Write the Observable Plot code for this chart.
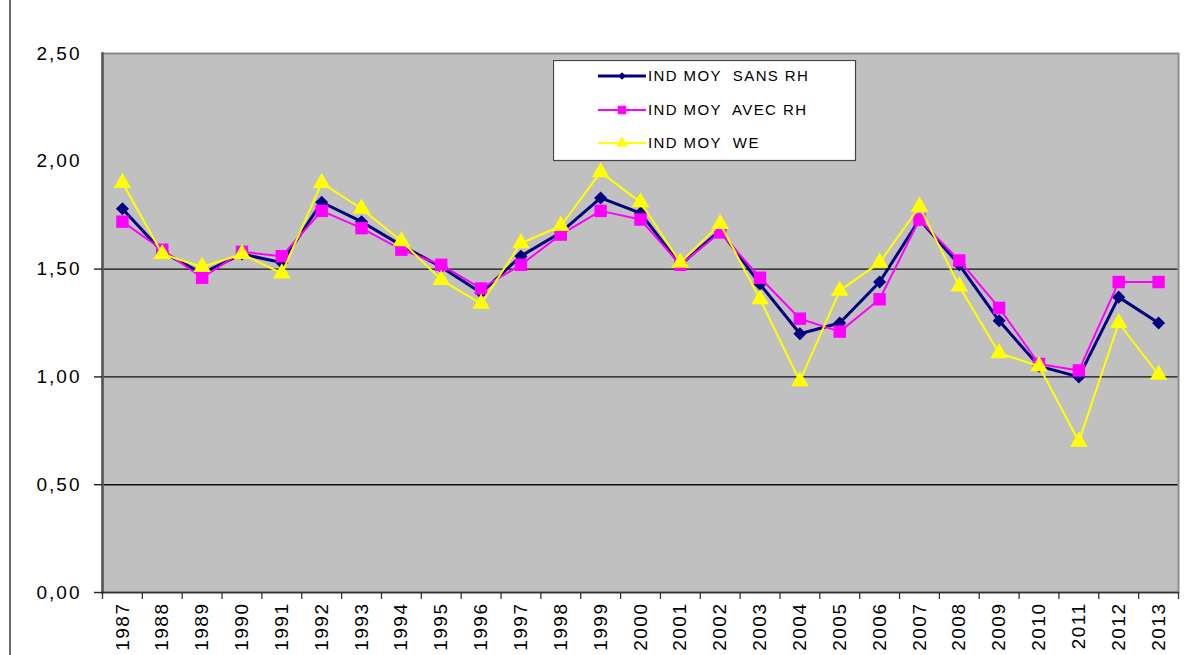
<!DOCTYPE html>
<html>
<head>
<meta charset="utf-8">
<script src="https://cdn.jsdelivr.net/npm/d3@7"></script>
<script src="https://cdn.jsdelivr.net/npm/@observablehq/plot@0.6"></script>
<style>
  html, body { margin: 0; padding: 0; background: #fff; }
  #wrap { position: relative; width: 1202px; height: 655px; overflow: hidden; font-family: "Liberation Sans", Arial, sans-serif; }
  #leftline { position: absolute; left: 9px; top: 0; width: 2px; height: 655px; background: #6e6e6e; }
  #legend { position: absolute; left: 553px; top: 60px; }
  svg g[aria-label="x-axis tick label"] text { letter-spacing: 1.5px; }
  svg g[aria-label="y-axis tick label"] text { letter-spacing: 2px; }
</style>
</head>
<body>
<div id="wrap"><div id="leftline"></div><div id="chart"></div><div id="legend"></div></div>
<script>
const years = [1987,1988,1989,1990,1991,1992,1993,1994,1995,1996,1997,1998,1999,2000,2001,2002,2003,2004,2005,2006,2007,2008,2009,2010,2011,2012,2013];
const sansRH = [1.78,1.58,1.48,1.57,1.53,1.81,1.72,1.61,1.51,1.39,1.56,1.67,1.83,1.76,1.52,1.68,1.43,1.20,1.25,1.44,1.73,1.52,1.26,1.05,1.00,1.37,1.25];
const avecRH = [1.72,1.59,1.46,1.58,1.56,1.77,1.69,1.59,1.52,1.41,1.52,1.66,1.77,1.73,1.52,1.67,1.46,1.27,1.21,1.36,1.73,1.54,1.32,1.06,1.03,1.44,1.44];
const we     = [1.90,1.57,1.51,1.57,1.48,1.90,1.78,1.63,1.45,1.34,1.62,1.70,1.95,1.81,1.53,1.71,1.36,0.98,1.40,1.53,1.79,1.42,1.11,1.05,0.70,1.25,1.01];
const seriesNames = ["IND MOY  SANS RH", "IND MOY  AVEC RH", "IND MOY  WE"];
const yTickLabels = [0, 0.5, 1, 1.5, 2, 2.5];
const gridValues = [0.5, 1, 1.5];

const series = [
  {name: seriesNames[0], values: sansRH, color: "#000080", width: 3, symbol: "square", r: 5.2, rotate: 45},
  {name: seriesNames[1], values: avecRH, color: "#FF00FF", width: 2, symbol: "square", r: 7, rotate: 0},
  {name: seriesNames[2], values: we, color: "#FFFF00", width: 2, symbol: "triangle", r: 6.5, rotate: 0}
];

const boundaries = [years[0] - 0.5, ...years.map(y => y + 0.5)];
const fmt = d => d.toFixed(2).replace(".", ",");

const marks = [
  Plot.frame({fill: "#C0C0C0"}),
  Plot.gridY(gridValues, {stroke: "#111", strokeOpacity: 1, strokeWidth: 1.4}),
  Plot.frame({stroke: "#8c8c8c", strokeWidth: 2}),
  Plot.frame({anchor: "left", stroke: "#555", strokeWidth: 2.5}),
  Plot.axisY({ticks: yTickLabels, tickSize: 0, tickPadding: 21, tickFormat: fmt, fontSize: 19, fill: "#000", label: null}),
  Plot.axisY({ticks: [0, ...gridValues], tickSize: 8, tickFormat: () => "", stroke: "#222", strokeWidth: 1.4, label: null}),
  Plot.ruleY([0], {stroke: "#333", strokeWidth: 1.6}),
  Plot.axisX({ticks: boundaries, tickSize: 7, tickFormat: () => "", stroke: "#333", strokeWidth: 1.3, label: null}),
  Plot.axisX({ticks: years, tickSize: 0, tickPadding: 10, tickRotate: -90, tickFormat: d => String(d), fontSize: 19, fill: "#000", label: null})
];

for (const s of series) {
  const data = years.map((y, i) => ({year: y, value: s.values[i]}));
  marks.push(Plot.line(data, {x: "year", y: "value", stroke: s.color, strokeWidth: s.width}));
  marks.push(Plot.dot(data, {x: "year", y: "value", symbol: s.symbol, r: s.r, fill: s.color, stroke: "none", rotate: s.rotate}));
}

const chart = Plot.plot({
  width: 1202,
  height: 655,
  marginLeft: 102,
  marginRight: 24,
  marginTop: 53,
  marginBottom: 63,
  x: {type: "linear", domain: [years[0] - 0.5, years[years.length - 1] + 0.5], label: null},
  y: {domain: [0, 2.5], label: null},
  style: {background: "transparent", fontFamily: "'Liberation Sans', Arial, sans-serif", color: "#000"},
  marks
});
document.getElementById("chart").appendChild(chart);

// Legend
const lw = 302, lh = 100;
const lsvg = d3.select("#legend").append("svg").attr("width", lw + 2).attr("height", lh + 2);
lsvg.append("rect").attr("x", 0.5).attr("y", 0.5).attr("width", lw).attr("height", lh)
  .attr("fill", "#fff").attr("stroke", "#444").attr("stroke-width", 1.2);
const rowsY = [16, 50, 83];
series.forEach((s, i) => {
  const g = lsvg.append("g").attr("transform", `translate(0,${rowsY[i]})`);
  g.append("line").attr("x1", 45).attr("x2", 93).attr("y1", 0).attr("y2", 0)
    .attr("stroke", s.color).attr("stroke-width", s.width);
  const sym = s.symbol === "triangle" ? d3.symbolTriangle : d3.symbolSquare;
  const size = i === 0 ? 30 : (i === 1 ? 70 : 60);
  g.append("path").attr("d", d3.symbol(sym, size)())
    .attr("transform", `translate(69,0) rotate(${s.rotate})`).attr("fill", s.color);
  g.append("text").attr("x", 95).attr("y", 0).attr("dy", "0.36em")
    .attr("font-size", 15).attr("letter-spacing", "1.4px").attr("fill", "#000")
    .style("white-space", "pre")
    .attr("font-family", "'Liberation Sans', Arial, sans-serif").text(s.name);
});
</script>
</body>
</html>
